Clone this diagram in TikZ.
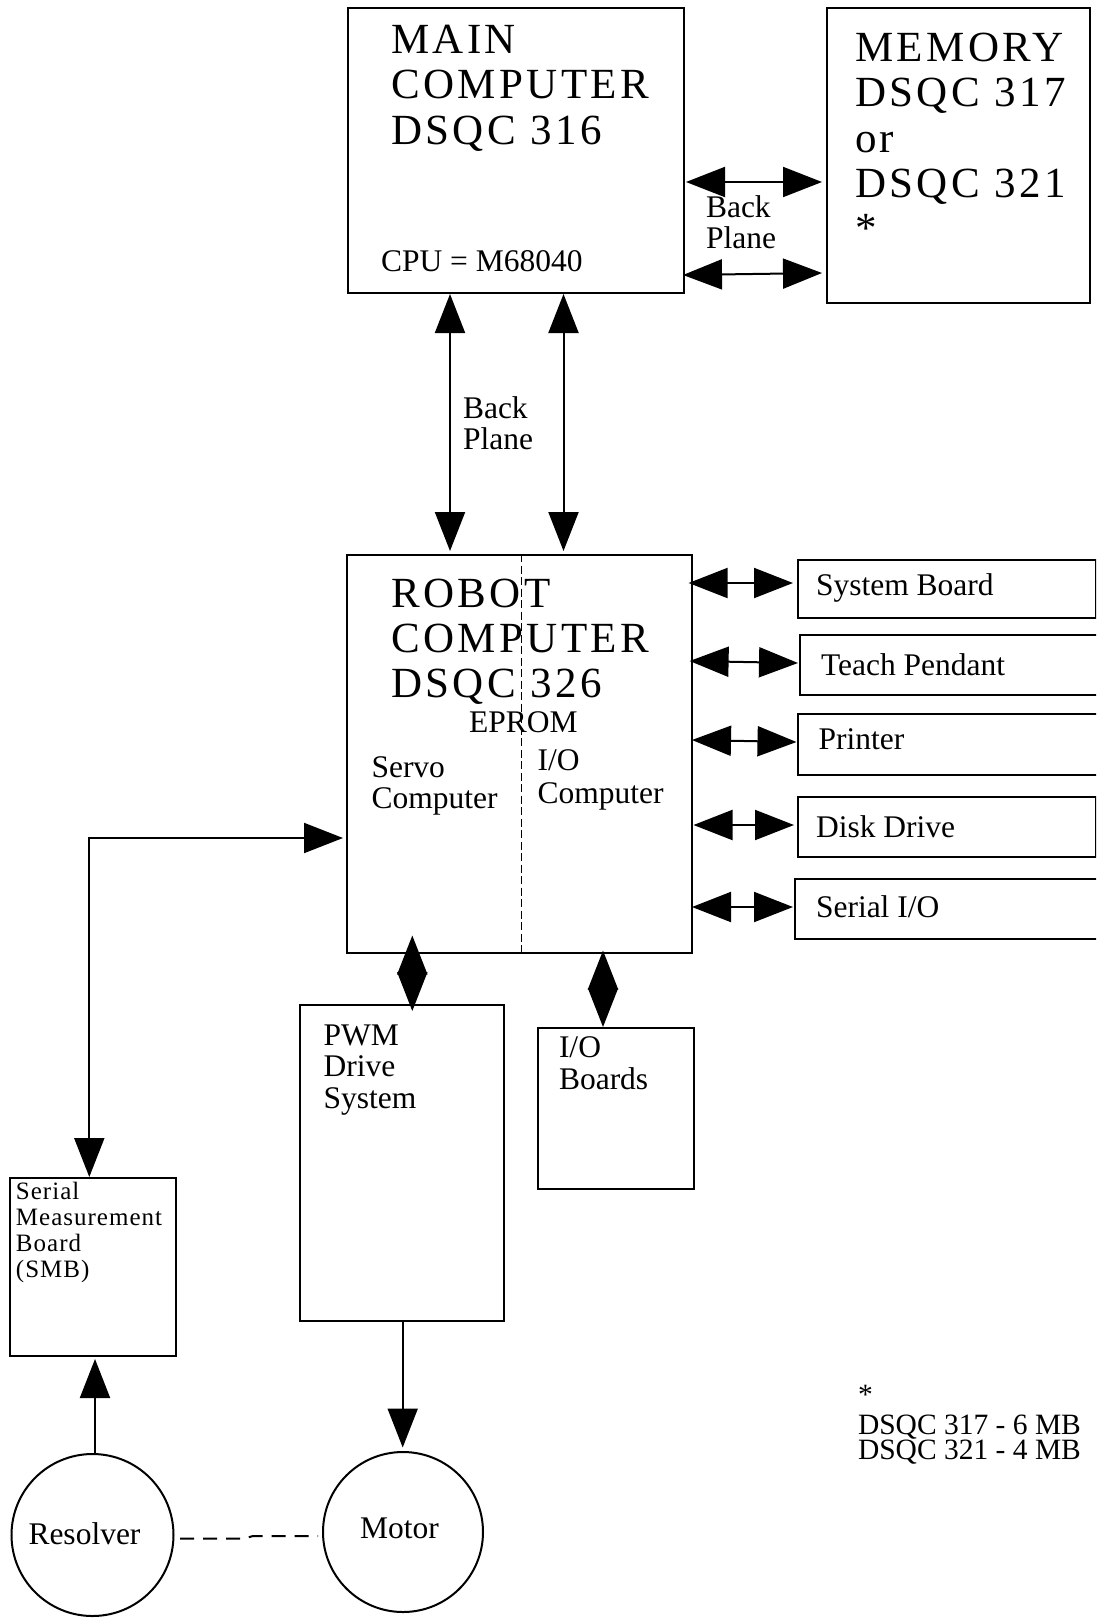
\documentclass[tikz,border=0pt]{standalone}
\usepackage{fontspec}
\setmainfont{Liberation Serif}
\newfontfamily\bigf[LetterSpace=8]{Liberation Serif}
\newfontfamily\smbf[LetterSpace=4]{Liberation Serif}
\usetikzlibrary{arrows.meta}
\newcommand\stk[2]{\vtop{\baselineskip=#1\lineskiplimit=-100pt\lineskip=0pt\relax#2}}
\begin{document}
\begin{tikzpicture}[x=1pt,y=-1pt, line width=2pt,
  >={Triangle[length=39pt,width=30pt]},
  box/.style={draw, line width=2pt, inner sep=0pt, anchor=north west},
  ring/.style={draw, circle, line width=2pt, inner sep=0pt},
  txt/.style={anchor=base west, inner sep=0pt, outer sep=0pt},
  big/.style={font=\bigf\fontsize{43}{45}\selectfont},
  mid/.style={font=\fontsize{31.5}{32}\selectfont},
  smbtext/.style={font=\smbf\fontsize{25}{26}\selectfont},
  note/.style={font=\fontsize{29.5}{25}\selectfont},
  conn/.style={line width=2pt},
  divider/.style={line width=1.5pt, dash pattern=on 8pt off 3.5pt},
  mechlink/.style={line width=2pt, dash pattern=on 14pt off 9pt}]
\useasboundingbox (0,0) rectangle (1096,1619);
\clip (0,0) rectangle (1096,1619);

% boxes
\node[box, minimum width=336pt, minimum height=285pt] (main) at (347,7) {};
\node[box, minimum width=263pt, minimum height=295pt] (mem) at (826,7) {};
\node[box, minimum width=345pt, minimum height=398pt] (robot) at (346,554) {};
\node[box, minimum width=298.5pt, minimum height=58pt] (sb) at (796.5,559) {};
\node[box, minimum width=330pt, minimum height=60pt] (tp) at (799,634) {};
\node[box, minimum width=330pt, minimum height=61pt] (pr) at (796.5,713) {};
\node[box, minimum width=298.5pt, minimum height=60pt] (dd) at (796.5,796) {};
\node[box, minimum width=330pt, minimum height=60pt] (sio) at (794,878) {};
\node[box, minimum width=204.5pt, minimum height=316.5pt] (pwm) at (298.5,1003.5) {};
\node[box, minimum width=156pt, minimum height=161pt] (iob) at (537,1027) {};
\node[box, minimum width=165.5pt, minimum height=178pt] (smb) at (9,1177) {};
\node[ring, minimum size=162pt] (res) at (92.5,1535) {};
\node[ring, minimum size=160pt] (mot) at (403,1532) {};

% divider in robot computer
\draw[divider] ([shift={(175.5,0)}]robot.north west) -- ([shift={(175.5,0)}]robot.south west);

% texts
\node[txt, big] (tmain) at (391,53) {\stk{45.5pt}{\hbox{MAIN}\hbox{COMPUTER}\hbox{DSQC 316}}};
\node[txt, mid] (tcpu) at (381,271) {CPU = M68040};
\node[txt, big] (tmem) at (855,62) {\stk{45pt}{\hbox{MEMORY}\hbox{DSQC 317}\hbox{or}\hbox{DSQC 321}\hbox{*}}};
\node[txt, mid] (tbp1) at (706,217) {\stk{31pt}{\hbox{Back}\hbox{Plane}}};
\node[txt, mid] (tbp2) at (463,418) {\stk{31pt}{\hbox{Back}\hbox{Plane}}};
\node[txt, big] (trob) at (391,607) {\stk{45pt}{\hbox{ROBOT}\hbox{COMPUTER}\hbox{DSQC 326}}};
\node[txt, mid] (tep) at (469,732) {EPROM};
\node[txt, mid] (tservo) at (371.5,777) {\stk{31pt}{\hbox{Servo}\hbox{Computer}}};
\node[txt, mid] (tio) at (537.6,770) {\stk{33pt}{\hbox{I/O}\hbox{Computer}}};
\node[txt, mid] (tsb) at (816,595) {System Board};
\node[txt, mid] (ttp) at (821,675) {Teach Pendant};
\node[txt, mid] (tpr) at (818.5,749) {Printer};
\node[txt, mid] (tdd) at (816,837) {Disk Drive};
\node[txt, mid] (tsio) at (816,917) {Serial I/O};
\node[txt, mid] (tpwm) at (323.7,1045) {\stk{31.5pt}{\hbox{PWM}\hbox{Drive}\hbox{System}}};
\node[txt, mid] (tiob) at (559,1057) {\stk{32pt}{\hbox{I/O}\hbox{Boards}}};
\node[txt, smbtext] (tsmb) at (16,1199) {\stk{26pt}{\hbox{Serial}\hbox{Measurement}\hbox{Board}\hbox{(SMB)}}};
\node[txt, mid] (tres) at (28.5,1544) {Resolver};
\node[txt, mid] (tmot) at (360,1538.5) {Motor};
\node[txt, note] (tstar) at (858,1404) {*};
\node[txt, note] (tnote) at (858,1434) {\stk{25pt}{\hbox{DSQC 317 - 6 MB}\hbox{DSQC 321 - 4 MB}}};

% connectors
\draw[conn,<->] ([shift={(1,175)}]main.north east) -- ([shift={(-4,175)}]mem.north west);
\draw[conn,<->] ([shift={(-2,268)}]main.north east) -- ([shift={(-4,266)}]mem.north west);
\draw[conn,<->] ([shift={(103,0)}]main.south west) -- ([shift={(104,-3)}]robot.north west);
\draw[conn,<->] ([shift={(216.5,0)}]main.south west) -- ([shift={(217.5,-3)}]robot.north west);

\draw[conn,<->] ([shift={(-4.4,29)}]robot.north east) -- ([shift={(-3.5,24)}]sb.north west);
\draw[conn,<->] ([shift={(-3.4,107)}]robot.north east) -- ([shift={(-1,29)}]tp.north west);
\draw[conn,<->] ([shift={(-1,186)}]robot.north east) -- ([shift={(0,29)}]pr.north west);
\draw[conn,<->] ([shift={(0.5,271)}]robot.north east) -- ([shift={(-2.5,29)}]dd.north west);
\draw[conn,<->] ([shift={(-1,353)}]robot.north east) -- ([shift={(-1,29)}]sio.north west);

\draw[conn,<->] ([shift={(80.3,0)}]smb.north west) |- ([shift={(-3,284)}]robot.north west);
\draw[conn,<->] ([shift={(66.3,-18.5)}]robot.south west) -- ([shift={(113.8,7.5)}]pwm.north west);
\draw[conn,<->] ([shift={(257,-3.5)}]robot.south west) -- ([shift={(66,0)}]iob.north west);
\draw[conn,->] ([shift={(104.2,0)}]pwm.south west) -- ([shift={(-0.3,-3.5)}]mot.north);
\draw[conn,->] ([shift={(2.5,0)}]res.north) -- ([shift={(86,2)}]smb.south west);
\draw[mechlink] ([shift={(5.5,3.5)}]res.east) -- ++(64,0) -- ++(9,-2.5) -- ([shift={(-4,4)}]mot.west);
\end{tikzpicture}
\end{document}
